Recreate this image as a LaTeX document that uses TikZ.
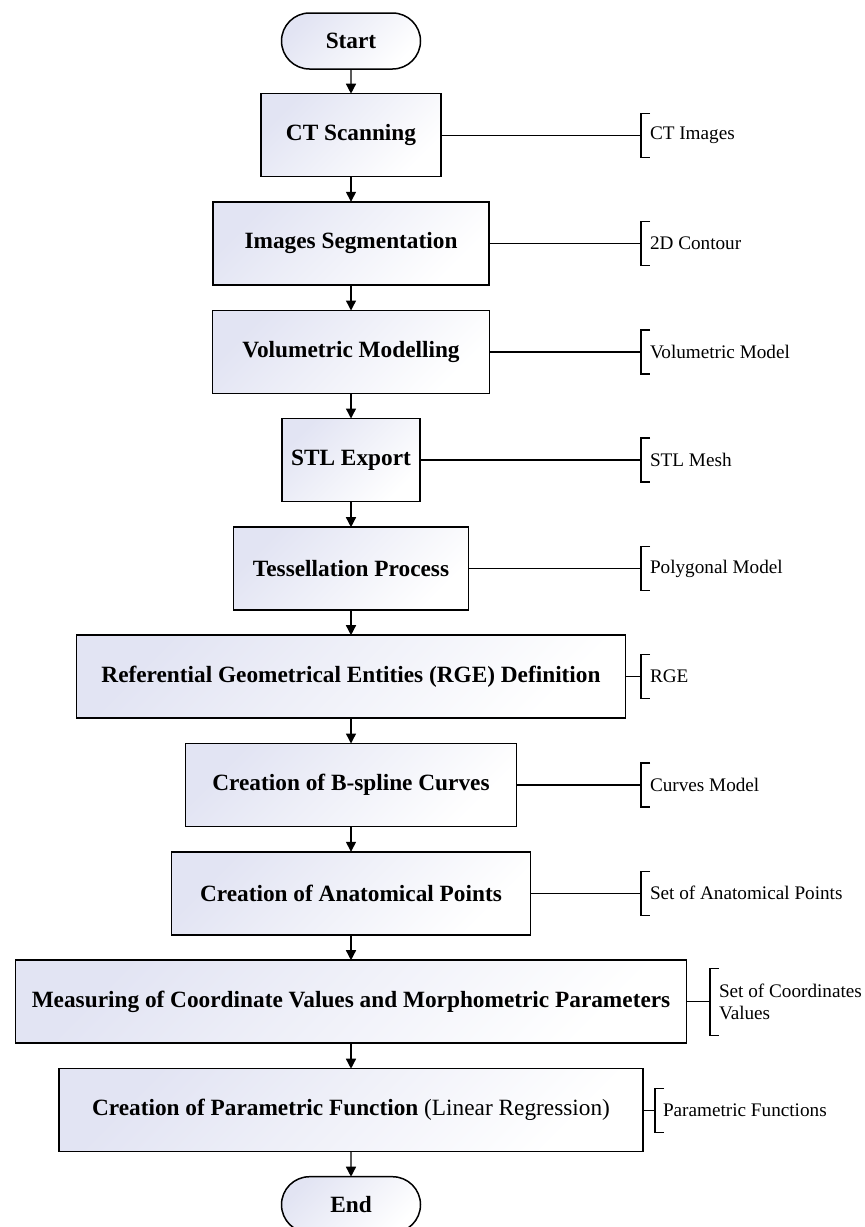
\documentclass[tikz,border=0pt]{standalone}
\usepackage{fontspec}
\setmainfont{Liberation Serif}
\usetikzlibrary{shapes.misc,arrows.meta}

\definecolor{lavend}{RGB}{226,228,243}

\begin{document}
\begin{tikzpicture}[x=0.5pt, y=-0.5pt,
	stepbox/.style={rectangle, draw, line width=0.75pt, minimum height=41.5pt, inner sep=0pt, outer sep=0pt,
		top color=lavend, bottom color=white, shading angle=45, font=\fontsize{11.65}{13}\selectfont\bfseries},
	term/.style={rounded rectangle, draw, line width=0.75pt, minimum width=69.5pt, minimum height=28pt, inner sep=0pt, outer sep=0pt,
		top color=lavend, bottom color=white, shading angle=45, font=\fontsize{11.65}{13}\selectfont\bfseries},
	outlbl/.style={anchor=west, minimum height=22pt, inner xsep=4.5pt, inner ysep=0pt, outer sep=0pt, align=left,
		font=\fontsize{9.6}{10.7}\selectfont},
	flow/.style={-{Triangle[length=5pt,width=5pt]}, line width=0.7pt},
	link/.style={line width=0.6pt}]
	\useasboundingbox (0,0) rectangle (865,1227);
	% main column
	\node[term] (start) at (351, 41) {Start};
	\node[stepbox, minimum width=90pt] (ct) at (351, 135.2) {CT Scanning};
	\node[stepbox, minimum width=138pt] (seg) at (351, 243.3) {Images Segmentation};
	\node[stepbox, minimum width=138.3pt] (vol) at (351, 352) {Volumetric Modelling};
	\node[stepbox, minimum width=69pt] (stl) at (351, 460) {STL Export};
	\node[stepbox, minimum width=117.5pt] (tess) at (351, 568.7) {Tessellation Process};
	\node[stepbox, minimum width=274.7pt] (rge) at (351, 676.7) {Referential Geometrical Entities (RGE) Definition};
	\node[stepbox, minimum width=165.6pt] (bsp) at (351, 785) {Creation of B-spline Curves};
	\node[stepbox, minimum width=179.7pt] (anat) at (351, 893.3) {Creation of Anatomical Points};
	\node[stepbox, minimum width=335.5pt] (meas) at (351, 1001.7) {Measuring of Coordinate Values and Morphometric Parameters};
	\node[stepbox, minimum width=292.2pt] (param) at (351, 1110.2) {Creation of Parametric Function \mdseries(Linear Regression)};
	\node[term] (end) at (351, 1204.7) {End};
	% outputs
		\node[outlbl] (ctout) at (641, 135.2) {CT Images};
		\node[outlbl] (segout) at (641, 243.3) {2D Contour};
		\node[outlbl] (volout) at (641, 352) {Volumetric Model};
		\node[outlbl] (stlout) at (641, 460) {STL Mesh};
		\node[outlbl] (tessout) at (641, 568.7) {Polygonal Model};
		\node[outlbl] (rgeout) at (641, 676.7) {RGE};
		\node[outlbl] (bspout) at (641, 785) {Curves Model};
		\node[outlbl] (anatout) at (641, 893.3) {Set of Anatomical Points};
		\node[outlbl, minimum height=33.5pt] (measout) at (710, 1001.7) {Set of Coordinates\\Values};
		\node[outlbl, inner xsep=4pt] (paramout) at (655, 1110.2) {Parametric Functions};
	\draw[flow] (start) -- (ct);
	\draw[flow] (ct) -- (seg);
	\draw[flow] (seg) -- (vol);
	\draw[flow] (vol) -- (stl);
	\draw[flow] (stl) -- (tess);
	\draw[flow] (tess) -- (rge);
	\draw[flow] (rge) -- (bsp);
	\draw[flow] (bsp) -- (anat);
	\draw[flow] (anat) -- (meas);
	\draw[flow] (meas) -- (param);
	\draw[flow] (param) -- (end);
	\draw[link] (ct) -- (ctout);
	\draw[link] (seg) -- (segout);
	\draw[link] (vol) -- (volout);
	\draw[link] (stl) -- (stlout);
	\draw[link] (tess) -- (tessout);
	\draw[link] (rge) -- (rgeout);
	\draw[link] (bsp) -- (bspout);
	\draw[link] (anat) -- (anatout);
	\draw[link] (meas) -- (measout);
	\draw[link] (param) -- (paramout);
	% brackets
	\draw[link] ([xshift=4.5pt]ctout.north west) -| (ctout.south west) -- ++(9,0);
	\draw[link] ([xshift=4.5pt]segout.north west) -| (segout.south west) -- ++(9,0);
	\draw[link] ([xshift=4.5pt]volout.north west) -| (volout.south west) -- ++(9,0);
	\draw[link] ([xshift=4.5pt]stlout.north west) -| (stlout.south west) -- ++(9,0);
	\draw[link] ([xshift=4.5pt]tessout.north west) -| (tessout.south west) -- ++(9,0);
	\draw[link] ([xshift=4.5pt]rgeout.north west) -| (rgeout.south west) -- ++(9,0);
	\draw[link] ([xshift=4.5pt]bspout.north west) -| (bspout.south west) -- ++(9,0);
	\draw[link] ([xshift=4.5pt]anatout.north west) -| (anatout.south west) -- ++(9,0);
	\draw[link] ([xshift=4.5pt]measout.north west) -| (measout.south west) -- ++(9,0);
	\draw[link] ([xshift=4.5pt]paramout.north west) -| (paramout.south west) -- ++(9,0);
\end{tikzpicture}
\end{document}
